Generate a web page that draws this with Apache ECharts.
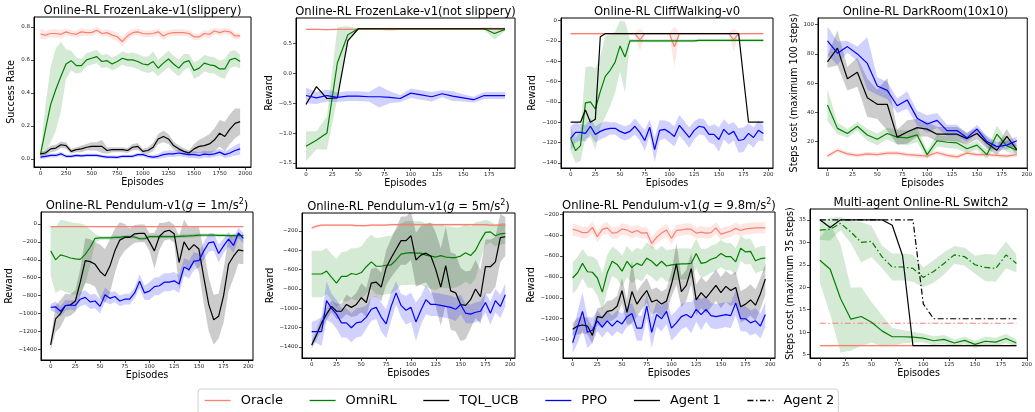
<!DOCTYPE html>
<html>
<head>
<meta charset="utf-8">
<title>Online-RL curves</title>
<script src="https://cdn.jsdelivr.net/npm/echarts@6.0.0/dist/echarts.min.js"></script>
</head>
<body style="margin:0">
<div id="container" style="width:1035px;height:412px"></div>
<script type="text/javascript">
// ---- episodes (x values) ----
var ep50 = [0,50,100,150,200,250,300,350,400,450,500,550,600,650,700,750,800,850,900,950,1000,1050,1100,1150,1200,1250,1300,1350,1400,1450,1500,1550,1600,1650,1700,1750,1800,1850,1900,1950];
var ep10 = [0,10,20,30,40,50,60,70,80,90,100,110,120,130,140,150,160,170,180,190];
var ep5 = [0,5,10,15,20,25,30,35,40,45,50,55,60,65,70,75,80,85,90,95,100,105,110,115,120,125,130,135,140,145,150,155,160,165,170,175,180,185,190,195];

// ---- tick labels ----
var xTicks2000 = [0,250,500,750,1000,1250,1500,1750,2000];
var xTicks175 = [0,25,50,75,100,125,150,175];
var xTicks200 = [0,25,50,75,100,125,150,175,200];
var yTicksFl1 = [0,0.2,0.4,0.6,0.8];
var yTicksFl2 = [-1.5,-1,-0.5,0,0.5];
var yTicksCw = [-140,-120,-100,-80,-60,-40,-20,0];
var yTicksDr = [20,40,60,80,100];
var yTicksP1 = [-1400,-1200,-1000,-800,-600,-400,-200,0];
var yTicksP5 = [-1400,-1200,-1000,-800,-600,-400,-200];
var yTicksSw = [5,10,15,20,25,30,35];

// ---- FrozenLake slippery ----
var fl1Oracle = [0.757,0.750,0.760,0.760,0.755,0.770,0.760,0.755,0.770,0.765,0.765,0.780,0.760,0.765,0.750,0.740,0.710,0.745,0.765,0.770,0.760,0.758,0.760,0.770,0.745,0.760,0.765,0.765,0.765,0.760,0.740,0.740,0.760,0.755,0.775,0.765,0.775,0.770,0.745,0.745];
var fl1OracleSd = [0.03,0.025,0.025,0.025,0.025,0.02,0.02,0.02,0.025,0.02,0.02,0.02,0.02,0.02,0.025,0.025,0.03,0.025,0.02,0.02,0.02,0.02,0.02,0.02,0.025,0.02,0.02,0.02,0.02,0.02,0.02,0.02,0.02,0.025,0.02,0.02,0.02,0.02,0.02,0.02];
var fl1Omni = [0.025,0.18,0.33,0.42,0.50,0.575,0.595,0.565,0.565,0.600,0.610,0.620,0.590,0.595,0.575,0.590,0.610,0.600,0.600,0.590,0.575,0.570,0.590,0.550,0.580,0.605,0.575,0.550,0.585,0.595,0.535,0.550,0.580,0.570,0.565,0.545,0.545,0.600,0.610,0.590];
var fl1OmniSd = [0.02,0.15,0.23,0.25,0.21,0.09,0.06,0.05,0.04,0.04,0.04,0.04,0.04,0.04,0.04,0.04,0.04,0.04,0.045,0.045,0.045,0.05,0.06,0.05,0.05,0.05,0.05,0.05,0.05,0.04,0.05,0.05,0.05,0.05,0.05,0.05,0.06,0.05,0.05,0.04];
var fl1Tql = [0.030,0.035,0.060,0.065,0.085,0.080,0.045,0.055,0.060,0.070,0.075,0.075,0.075,0.050,0.055,0.055,0.055,0.050,0.070,0.075,0.045,0.050,0.070,0.120,0.135,0.120,0.080,0.060,0.045,0.035,0.060,0.075,0.080,0.090,0.115,0.155,0.135,0.180,0.215,0.225];
var fl1TqlSd = [0.01,0.015,0.02,0.02,0.02,0.02,0.015,0.015,0.02,0.02,0.025,0.025,0.04,0.02,0.015,0.015,0.015,0.015,0.02,0.02,0.015,0.02,0.025,0.03,0.035,0.03,0.025,0.02,0.02,0.015,0.03,0.04,0.05,0.06,0.07,0.08,0.09,0.09,0.09,0.08];
var fl1Ppo = [0.010,0.015,0.020,0.020,0.030,0.015,0.015,0.020,0.018,0.020,0.020,0.020,0.015,0.010,0.010,0.008,0.015,0.015,0.015,0.025,0.025,0.015,0.010,0.015,0.025,0.030,0.030,0.035,0.030,0.025,0.025,0.020,0.028,0.025,0.030,0.040,0.025,0.035,0.050,0.060];
var fl1PpoSd = [0.012,0.012,0.012,0.012,0.012,0.01,0.01,0.01,0.01,0.01,0.01,0.01,0.01,0.01,0.01,0.01,0.01,0.01,0.01,0.012,0.012,0.012,0.012,0.015,0.02,0.02,0.02,0.02,0.02,0.02,0.02,0.02,0.02,0.02,0.02,0.02,0.02,0.025,0.03,0.035];

// ---- FrozenLake not slippery ----
var fl2Oracle = [0.74,0.74,0.735,0.74,0.74,0.74,0.74,0.74,0.735,0.74,0.74,0.74,0.74,0.74,0.74,0.74,0.74,0.74,0.74,0.74];
var fl2OracleSd = [0.012,0.012,0.012,0.012,0.012,0.012,0.012,0.012,0.012,0.012,0.012,0.012,0.012,0.012,0.012,0.012,0.012,0.012,0.012,0.012];
var fl2Omni = [-1.22,-1.12,-1.00,0.18,0.65,0.75,0.75,0.75,0.75,0.75,0.75,0.75,0.75,0.75,0.75,0.75,0.75,0.75,0.67,0.74];
var fl2OmniSd = [0.25,0.15,0.28,0.60,0.14,0.01,0.01,0.01,0.01,0.01,0.01,0.01,0.01,0.01,0.01,0.01,0.01,0.02,0.10,0.03];
var fl2Tql = [-0.52,-0.22,-0.42,-0.41,0.55,0.75,0.75,0.75,0.75,0.75,0.75,0.75,0.75,0.75,0.75,0.75,0.75,0.75,0.75,0.75];
var fl2TqlSd = [0,0,0,0,0,0,0,0,0,0,0,0,0,0,0,0,0,0,0,0];
var fl2Ppo = [-0.37,-0.41,-0.37,-0.40,-0.38,-0.38,-0.39,-0.39,-0.40,-0.42,-0.33,-0.36,-0.39,-0.34,-0.38,-0.41,-0.44,-0.37,-0.37,-0.37];
var fl2PpoSd = [0.13,0.10,0.10,0.08,0.08,0.08,0.08,0.18,0.10,0.06,0.08,0.08,0.08,0.06,0.08,0.06,0.05,0.06,0.06,0.06];

// ---- CliffWalking ----
var cwOracle = [-13,-13,-13,-13,-13,-13,-13,-13,-13,-13,-13,-13,-13,-13,-19,-13,-13,-13,-13,-13,-13,-26,-13,-13,-13,-13,-13,-13,-13,-13,-13,-13,-13,-19,-13,-13,-13,-13,-13,-13];
var cwOracleSd = [1,1,1,1,1,1,1,1,1,1,1,1,1,1,11,1,1,1,1,1,1,20,1,1,1,1,1,1,1,1,1,1,1,11,1,1,1,1,1,1];
var cwOmni = [-116,-128,-123,-81,-80,-87,-70,-55,-49,-41,-25,-36,-20,-20,-20,-20,-20,-20,-20,-20,-20,-20,-20,-20,-20,-20,-19.5,-19.5,-19.5,-19.5,-19.5,-19.5,-19.5,-19.5,-19.5,-19.5,-19.5,-19.5,-19.5,-19.5];
var cwOmniSd = [12,12,15,35,35,40,35,40,35,30,25,35,2,1.5,1.5,1.5,1.5,1.5,1.5,1.5,1.5,1.5,1.5,1.5,1.5,1.5,1.5,1.5,1.5,1.5,1.5,1.5,1.5,1.5,1.5,1.5,1.5,1.5,1.5,1.5];
var cwTql = [-100,-100,-100,-88,-100,-97,-16,-13,-13,-13,-13,-13,-13,-13,-13,-13,-13,-13,-13,-13,-13,-13,-13,-13,-13,-13,-13,-13,-13,-13,-13,-13,-13,-13,-13,-57,-100,-100,-100,-100];
var cwTqlSd = [0,0,0,0,0,0,0,0,0,0,0,0,0,0,0,0,0,0,0,0,0,0,0,0,0,0,0,0,0,0,0,0,0,0,0,0,0,0,0,0];
var cwPpo = [-116,-110,-110,-111,-104,-112,-109,-107,-106,-106,-109,-111,-109,-104,-110,-118,-105,-127,-108,-107,-110,-114,-103,-109,-115,-108,-104,-105,-112,-112,-117,-107,-112,-109,-118,-117,-111,-115,-108,-111];
var cwPpoSd = [12,10,8,8,8,8,8,8,6,6,7,7,7,8,8,10,8,12,10,9,10,10,10,10,10,9,8,8,8,10,12,10,10,9,12,12,10,10,10,8];

// ---- DarkRoom ----
var drOracle = [10,14,11.5,10.5,11.5,11,12,12,11,10.5,10,12.5,10.5,9.5,12,11,11,10.5,10,11];
var drOracleSd = [1.5,1.5,1.5,1.5,1.5,1.5,1.5,1.5,1.5,1.5,1.5,1.5,1.5,1.5,1.5,1.5,1.5,1.5,1.5,1.5];
var drOmni = [45,29,25.5,30.5,24.5,21.5,25.5,23,22.5,24.5,11,20.5,19.5,19,15,17.5,11,25,17,14];
var drOmniSd = [11,4,3,3,4,4,4,5,5,5,3,4,4,4,3,3,3,6,4,3];
var drTql = [74.5,84,63,67.5,50,45.5,45.5,23,26.5,29.5,28.5,25,25,25,22,25.5,19,14,23.5,14.5];
var drTqlSd = [4,12,8,10,13,10,18,5,8,6,5,5,5,5,4,4,4,3,5,3];
var drPpo = [89,80.5,85,80,73.5,58,55,44.5,48.5,36,32,34.5,27.5,27.5,22.5,28.5,20,16.5,17.5,20.5];
var drPpoSd = [10,8,4,5,18,6,6,5,6,5,6,5,4,4,3,3,4,3,3,3];

// ---- Pendulum g=1 ----
var pg1Oracle = [-30,-30,-30,-30,-30,-30,-30,-30,-30,-30,-30,-30,-30,-30,-30,-30,-30,-30,-30,-30,-30,-30,-30,-30,-30,-30,-30,-30,-30,-30,-30,-30,-30,-30,-30,-30,-30,-30,-30,-30];
var pg1OracleSd = [5,5,5,5,5,5,5,5,5,5,5,5,5,5,5,5,5,5,5,5,5,5,5,5,5,5,5,5,5,5,5,5,5,5,5,5,5,5,5,5];
var pg1Omni = [-300,-400,-345,-360,-380,-390,-395,-340,-260,-160,-155,-155,-155,-150,-150,-140,-140,-145,-165,-165,-140,-140,-140,-140,-140,-140,-138,-135,-133,-130,-125,-125,-125,-125,-128,-128,-130,-130,-130,-130];
var pg1OmniSd = [280,370,390,400,400,400,400,330,200,50,25,20,20,20,20,20,20,20,20,20,20,20,20,20,20,20,20,20,20,20,20,20,20,20,20,20,20,20,20,20];
var pg1Tql = [-1350,-1060,-1000,-910,-905,-860,-650,-410,-420,-450,-530,-580,-470,-300,-180,-150,-150,-110,-105,-105,-200,-300,-140,-85,-70,-110,-430,-200,-290,-230,-280,-600,-900,-1070,-1030,-800,-450,-360,-290,-300];
var pg1TqlSd = [60,150,150,130,120,120,150,250,250,250,300,300,300,250,200,150,100,100,100,100,100,200,150,100,100,100,300,250,250,200,250,300,300,280,250,300,300,250,150,150];
var pg1Ppo = [-930,-925,-975,-910,-905,-910,-840,-820,-870,-860,-920,-790,-830,-810,-860,-840,-840,-770,-640,-770,-750,-700,-690,-650,-650,-635,-670,-480,-510,-415,-410,-300,-210,-200,-330,-245,-170,-240,-100,-160];
var pg1PpoSd = [40,60,60,60,50,60,80,80,80,80,80,80,70,60,60,60,60,60,80,80,100,100,100,100,100,100,100,100,100,100,80,100,100,100,100,80,80,80,60,60];

// ---- Pendulum g=5 ----
var pg5Oracle = [-170,-150,-140,-140,-140,-140,-140,-140,-140,-145,-145,-145,-140,-140,-140,-140,-135,-135,-135,-135,-135,-135,-135,-135,-135,-135,-135,-135,-135,-135,-135,-135,-135,-135,-135,-135,-140,-140,-140,-140];
var pg5OracleSd = [20,15,12,12,12,12,12,12,12,12,12,12,12,12,12,12,12,12,12,12,12,12,12,12,12,12,12,12,12,12,12,12,12,12,12,12,12,12,12,12];
var pg5Omni = [-645,-645,-645,-615,-680,-740,-670,-670,-640,-650,-630,-570,-520,-565,-565,-555,-550,-500,-440,-430,-425,-430,-430,-450,-460,-470,-455,-470,-475,-475,-460,-425,-455,-400,-300,-215,-210,-250,-230,-225];
var pg5OmniSd = [240,240,240,240,240,250,250,260,260,270,270,280,280,290,300,300,300,310,320,330,330,330,330,330,340,340,330,320,320,310,300,300,300,290,200,130,110,110,110,110];
var pg5Tql = [-1380,-1270,-1150,-1060,-980,-1030,-1030,-960,-990,-960,-890,-940,-740,-730,-780,-580,-480,-390,-300,-300,-250,-500,-450,-430,-460,-600,-780,-560,-820,-840,-960,-970,-910,-800,-880,-570,-570,-520,-270,-260];
var pg5TqlSd = [40,50,60,60,60,80,80,100,100,120,150,150,150,150,150,180,200,220,250,250,250,280,300,300,350,380,400,400,400,400,380,350,300,300,280,280,280,260,250,200];
var pg5Ppo = [-1240,-1240,-1240,-920,-1000,-1060,-1150,-1150,-1200,-1150,-1140,-1090,-1010,-990,-1090,-1160,-980,-840,-970,-1020,-990,-1140,-1020,-910,-960,-960,-970,-980,-990,-1010,-960,-1050,-1060,-1040,-1030,-940,-1050,-920,-980,-860];
var pg5PpoSd = [100,120,150,200,150,150,150,150,150,150,150,120,120,120,150,150,150,120,120,150,150,200,150,150,120,120,120,120,120,120,100,100,100,100,100,100,120,120,120,120];

// ---- Pendulum g=9.8 ----
var pg9Oracle = [-345,-355,-375,-375,-325,-415,-345,-330,-380,-375,-340,-350,-375,-355,-380,-375,-480,-420,-380,-350,-430,-355,-350,-340,-345,-380,-370,-380,-375,-330,-390,-375,-360,-335,-355,-340,-335,-330,-330,-330];
var pg9OracleSd = [60,55,55,55,55,55,55,55,55,55,55,55,55,55,55,55,60,60,60,60,60,55,55,55,55,55,55,55,55,55,55,55,55,55,55,55,55,55,55,55];
var pg9Omni = [-810,-760,-670,-750,-755,-810,-945,-760,-650,-680,-745,-650,-710,-670,-690,-620,-650,-695,-650,-695,-685,-680,-675,-675,-670,-575,-670,-660,-630,-615,-575,-605,-605,-655,-525,-560,-555,-645,-625,-620];
var pg9OmniSd = [150,150,140,150,150,170,180,170,140,140,150,150,150,150,150,150,150,150,150,150,150,150,150,150,140,140,140,130,130,130,130,130,130,130,120,120,120,120,120,120];
var pg9Tql = [-1300,-1270,-1260,-1270,-1360,-1180,-1190,-1130,-1120,-1080,-930,-1140,-940,-1060,-990,-930,-1040,-1020,-1060,-1030,-870,-675,-940,-880,-720,-1020,-950,-1000,-940,-880,-950,-890,-930,-900,-1085,-1060,-1020,-1070,-960,-820];
var pg9TqlSd = [60,80,80,80,80,80,100,100,100,100,120,120,300,120,120,120,120,120,120,120,120,200,150,150,150,150,150,150,150,150,150,150,150,150,150,150,150,150,150,150];
var pg9Ppo = [-1430,-1280,-1130,-1330,-1310,-1220,-1280,-1220,-1270,-1220,-1250,-1180,-1150,-1290,-1290,-1080,-1330,-1160,-1200,-1130,-1290,-1240,-1180,-1160,-1190,-1110,-1160,-1110,-1170,-1180,-1170,-1160,-1170,-1050,-1200,-1200,-1240,-1220,-1270,-1160];
var pg9PpoSd = [100,150,180,150,120,100,100,100,100,100,100,100,100,120,120,120,150,120,120,120,120,120,120,120,150,120,150,120,120,120,120,120,120,120,120,120,120,120,120,120];

// ---- Switch2 (two agents) ----
var swOracle1 = [7,7,7,7,7,7,7,7,7,7,7,7,7,7,7,7,7,7,7,7];
var swOracle1Sd = [0.2,0.2,0.2,0.2,0.2,0.2,0.2,0.2,0.2,0.2,0.2,0.2,0.2,0.2,0.2,0.2,0.2,0.2,0.2,0.2];
var swOracle2 = [12,12,12,12,12,12,12,12,12,12,12,12,12,12,12,12,12,12,12,12];
var swOmni1 = [26,24,17.5,12.9,13.5,12.2,10.3,9,9,8.9,8.7,8.1,8.4,7.6,8.2,7.3,8,7.8,8.6,7.6];
var swOmni1Sd = [5,10,12,7,6.5,4.5,3.5,2,1.5,1.2,1,1,1,0.8,0.8,0.8,1,1,1,0.8];
var swOmni2 = [32.7,32.9,34.2,32.3,30,30.2,26.8,24.5,24.5,24.2,22.2,23.5,25.3,27.2,26.8,25,24.4,24.2,27.2,25.3];
var swOmni2Sd = [2.2,2.5,1.5,2.5,4.5,3.5,2.5,3,3,3,2.2,2.5,2.5,2,2,2,3,3,3,2];
var swTql1 = [35,33.3,35,35,35,35,35,33.8,27,7,7,7,7,7,7,7,7,7,7,7];
var swTql2 = [35,35,35,35,35,35,35,35,35,35,16.3,13,13,13,13,13,13,13,13,13];

var FONT = 'DejaVu Sans';
var LINE = {oracle: '#fa8072', omni: '#008000', tql: '#000000', ppo: '#0000ff'};
var FILL = {oracle: 'rgba(250,128,114,0.2)', omni: 'rgba(0,128,0,0.17)', tql: 'rgba(0,0,0,0.2)', ppo: 'rgba(0,0,255,0.18)'};
var NAMES = {oracle: 'Oracle', omni: 'OmniRL', tql: 'TQL_UCB', ppo: 'PPO'};
var DASHDOT = [6, 2.5, 1.5, 2.5];

var panels = [
    {grid: {left: 34, top: 17, width: 217, height: 150}, xr: [-63, 2056], yr: [-0.05, 0.86], xs: ep50,
     xt: xTicks2000, yt: yTicksFl1, dec: 1, yname: 'Success Rate', ygap: 18,
     title: 'Online-RL FrozenLake-v1(slippery)',
     curves: [['oracle', fl1Oracle, fl1OracleSd], ['omni', fl1Omni, fl1OmniSd], ['tql', fl1Tql, fl1TqlSd], ['ppo', fl1Ppo, fl1PpoSd]]},
    {grid: {left: 296, top: 18, width: 219, height: 150}, xr: [-9.5, 199.5], yr: [-1.585, 0.93], xs: ep10,
     xt: xTicks175, yt: yTicksFl2, dec: 1, yname: 'Reward', ygap: 20,
     title: 'Online-RL FrozenLake-v1(not slippery)',
     curves: [['oracle', fl2Oracle, fl2OracleSd], ['omni', fl2Omni, fl2OmniSd], ['tql', fl2Tql, fl2TqlSd], ['ppo', fl2Ppo, fl2PpoSd]]},
    {grid: {left: 561, top: 18, width: 212, height: 150}, xr: [-9.75, 204.75], yr: [-145, 2.4], xs: ep5,
     xt: xTicks200, yt: yTicksCw, dec: 0, yname: 'Reward', ygap: 22,
     title: 'Online-RL CliffWalking-v0',
     curves: [['oracle', cwOracle, cwOracleSd], ['omni', cwOmni, cwOmniSd], ['tql', cwTql, cwTqlSd], ['ppo', cwPpo, cwPpoSd]]},
    {grid: {left: 818, top: 18, width: 215, height: 150}, xr: [-9.5, 200.5], yr: [1.85, 104.6], xs: ep10,
     xt: xTicks200, yt: yTicksDr, dec: 0, yname: 'Steps cost (maximum 100 steps)', ygap: 15,
     title: 'Online-RL DarkRoom(10x10)',
     curves: [['oracle', drOracle, drOracleSd], ['omni', drOmni, drOmniSd], ['tql', drTql, drTqlSd], ['ppo', drPpo, drPpoSd]]},
    {grid: {left: 41, top: 212, width: 212, height: 148}, xr: [-9.75, 204.75], yr: [-1519, 134], xs: ep5,
     xt: xTicks200, yt: yTicksP1, dec: 0, yname: 'Reward', ygap: 25, gval: '1',
     curves: [['oracle', pg1Oracle, pg1OracleSd], ['omni', pg1Omni, pg1OmniSd], ['tql', pg1Tql, pg1TqlSd], ['ppo', pg1Ppo, pg1PpoSd]]},
    {grid: {left: 302, top: 213, width: 213, height: 145}, xr: [-9.75, 204.75], yr: [-1513, -15], xs: ep5,
     xt: xTicks200, yt: yTicksP5, dec: 0, yname: 'Reward', ygap: 25, gval: '5',
     curves: [['oracle', pg5Oracle, pg5OracleSd], ['omni', pg5Omni, pg5OmniSd], ['tql', pg5Tql, pg5TqlSd], ['ppo', pg5Ppo, pg5PpoSd]]},
    {grid: {left: 563, top: 212, width: 212, height: 146}, xr: [-9.75, 204.75], yr: [-1576, -178], xs: ep5,
     xt: xTicks200, yt: yTicksP5, dec: 0, yname: 'Reward', ygap: 25, gval: '9.8',
     curves: [['oracle', pg9Oracle, pg9OracleSd], ['omni', pg9Omni, pg9OmniSd], ['tql', pg9Tql, pg9TqlSd], ['ppo', pg9Ppo, pg9PpoSd]]},
    {grid: {left: 810, top: 209, width: 222, height: 149}, xr: [-9.5, 200.5], yr: [4.27, 37.4], xs: ep10,
     xt: xTicks200, yt: yTicksSw, dec: 0, yname: 'Steps cost (maximum 35 steps)', ygap: 12,
     title: 'Multi-agent Online-RL Switch2',
     curves: [['oracle', swOracle1, swOracle1Sd], ['oracle', swOracle2, null, true],
              ['omni', swOmni1, swOmni1Sd], ['omni', swOmni2, swOmni2Sd, true],
              ['tql', swTql1, null], ['tql', swTql2, null, true]]}
];

function fmtNum(dec) {
    return function (v) {
        return (v < 0 ? '\u2212' : '') + Math.abs(v).toFixed(dec);
    };
}

function pairs(xs, ys) {
    return xs.map(function (x, i) { return [x, ys[i]]; });
}

function lineSeries(gi, xs, ys, key, name, dash) {
    return {
        type: 'line', name: name, xAxisIndex: gi, yAxisIndex: gi,
        data: pairs(xs, ys), symbol: 'none', clip: true, z: 3,
        lineStyle: {color: LINE[key], width: 1.2, type: dash ? DASHDOT : 'solid'},
        itemStyle: {color: LINE[key]}
    };
}

// mean +- std band as one polygon, placed with the axes' own scales
function bandSeries(gi, xs, m, sd, key) {
    return {
        type: 'custom', xAxisIndex: gi, yAxisIndex: gi, silent: true, clip: true, z: 2,
        data: [[xs[0], m[0]]],
        renderItem: function (params, api) {
            var pts = [];
            for (var i = 0; i < xs.length; i++) pts.push(api.coord([xs[i], m[i] + sd[i]]));
            for (var j = xs.length - 1; j >= 0; j--) pts.push(api.coord([xs[j], m[j] - sd[j]]));
            return {type: 'polygon', shape: {points: pts}, style: {fill: FILL[key], stroke: null}};
        }
    };
}

var grids = [], xAxes = [], yAxes = [], series = [], graphics = [];
var tickLabel = {fontSize: 5.5, color: '#222', fontFamily: FONT};
var axisName = {fontSize: 9.6, color: '#000', fontFamily: FONT};

panels.forEach(function (p, gi) {
    grids.push({left: p.grid.left, top: p.grid.top, width: p.grid.width, height: p.grid.height,
        show: true, borderColor: '#000', borderWidth: 1, backgroundColor: 'transparent'});
    xAxes.push({
        type: 'value', gridIndex: gi, min: p.xr[0], max: p.xr[1],
        name: 'Episodes', nameLocation: 'middle', nameGap: 10, nameTextStyle: axisName,
        splitLine: {show: false},
        axisLine: {show: true, onZero: false, lineStyle: {color: '#000', width: 1}},
        axisTick: {show: true, length: 3, customValues: p.xt, lineStyle: {color: '#222', width: 0.8}},
        axisLabel: Object.assign({customValues: p.xt, margin: 4, hideOverlap: false,
            formatter: function (v) { return String(v); }}, tickLabel)
    });
    yAxes.push({
        type: 'value', gridIndex: gi, min: p.yr[0], max: p.yr[1],
        name: p.yname, nameLocation: 'middle', nameGap: p.ygap, nameTextStyle: axisName,
        splitLine: {show: false},
        axisLine: {show: true, onZero: false, lineStyle: {color: '#000', width: 1}},
        axisTick: {show: true, length: 3, customValues: p.yt, lineStyle: {color: '#222', width: 0.8}},
        axisLabel: Object.assign({customValues: p.yt, margin: 4, hideOverlap: false, formatter: fmtNum(p.dec)}, tickLabel)
    });

    p.curves.forEach(function (c) {
        var key = c[0];
        series.push(lineSeries(gi, p.xs, c[1], key, gi === 0 ? NAMES[key] : undefined, c[3]));
        if (c[2]) series.push(bandSeries(gi, p.xs, c[1], c[2], key));
    });

    var txt = p.gval
        ? '{a|Online-RL Pendulum-v1(}{i|g}{a| = ' + p.gval + 'm/s}{s|2}{a|)}'
        : '{a|' + p.title + '}';
    graphics.push({
        type: 'text', x: p.grid.left + p.grid.width / 2, y: p.grid.top - 14, z: 10,
        style: {
            text: txt, align: 'center', verticalAlign: 'top',
            rich: {
                a: {fontSize: 11.6, fontFamily: FONT, fill: '#000', lineHeight: 15},
                i: {fontSize: 11.6, fontFamily: FONT, fontStyle: 'italic', fill: '#000', lineHeight: 15},
                s: {fontSize: 8, fontFamily: FONT, fill: '#000', verticalAlign: 'top'}
            }
        }
    });
});

// legend-only entries for the two agents
series.push({type: 'line', name: 'Agent 1', xAxisIndex: 7, yAxisIndex: 7, data: [], symbol: 'none',
    lineStyle: {color: '#000', width: 1.2}, itemStyle: {color: '#000'}});
series.push({type: 'line', name: 'Agent 2', xAxisIndex: 7, yAxisIndex: 7, data: [], symbol: 'none',
    lineStyle: {color: '#000', width: 1.2, type: DASHDOT}, itemStyle: {color: '#000'}});

var myChart = echarts.init(document.getElementById('container'));
var option = {
    animation: false,
    backgroundColor: '#fff',
    textStyle: {fontFamily: FONT},
    grid: grids,
    xAxis: xAxes,
    yAxis: yAxes,
    graphic: graphics,
    legend: {
        left: 198, top: 389, orient: 'horizontal', selectedMode: false,
        data: ['Oracle', 'OmniRL', 'TQL_UCB', 'PPO', 'Agent 1', 'Agent 2'],
        itemWidth: 26, itemHeight: 12, itemGap: 26,
        padding: [5, 4, 20, 6],
        borderColor: '#d0d0d0', borderWidth: 1, borderRadius: 3,
        itemStyle: {opacity: 0},
        lineStyle: {width: 1.3},
        textStyle: {fontSize: 13, fontFamily: FONT, color: '#000', padding: [0, 0, 0, 5]}
    },
    series: series
};
myChart.setOption(option);
</script>
</body>
</html>
